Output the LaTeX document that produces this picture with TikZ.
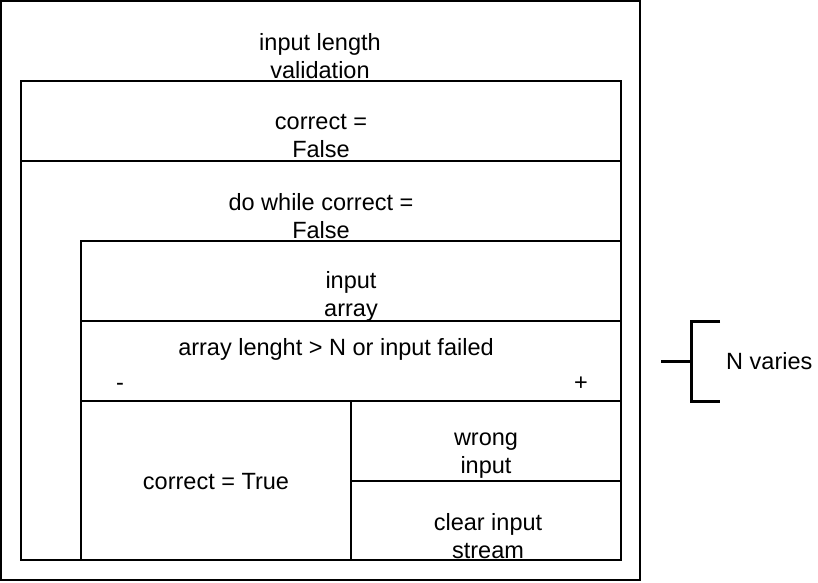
\documentclass[tikz,border=0pt]{standalone}
\usepackage{fontspec}
\setmainfont{Liberation Sans}
\begin{document}
\begin{tikzpicture}[x=1pt,y=-1pt,
  box/.style={draw=black,line width=2pt},
  lbl/.style={font=\fontsize{23.5}{28}\selectfont,align=center,inner sep=0pt},
  brk/.style={draw=black,line width=3pt}]
\useasboundingbox (0,0) rectangle (818,582);
% boxes
\draw[box] (1,1) rectangle (640,580);
\draw[box] (21,81) rectangle (621,560);
\draw[box] (21,161) -- (621,161);
\draw[box] (81,560) -- (81,241) -- (621,241);
\draw[box] (81,321) -- (621,321);
\draw[box] (81,401) -- (621,401);
\draw[box] (351,401) -- (351,560);
\draw[box] (351,481) -- (621,481);
% bracket
\coordinate (bt) at (691,321);
\coordinate (bb) at (691,401);
\coordinate (bm) at (691,361);
\draw[brk] (720,321) -- (bt) -- (bb) -- (720,401);
\draw[brk] (661,361) -- (bm);
% texts
\node[lbl] (t1) at (320,56) {input length\\validation};
\node[lbl] (t2) at (321,136) {correct =\\False};
\node[lbl] (t3) at (321,216) {do while correct =\\False};
\node[lbl] (t4) at (351,296) {input\\array};
\node[lbl] (t5) at (336,349) {array lenght > N or input failed};
\node[lbl,anchor=base] (tm) at (120,390) {-};
\node[lbl,anchor=base] (tp) at (581,390) {+};
\node[lbl] (t6) at (216,482) {correct = True};
\node[lbl] (t7) at (486,456) {wrong\\input};
\node[lbl] (t8) at (488,536) {clear input\\stream};
\node[lbl,anchor=west] (t9) at (726,361) {N varies};
\end{tikzpicture}
\end{document}
